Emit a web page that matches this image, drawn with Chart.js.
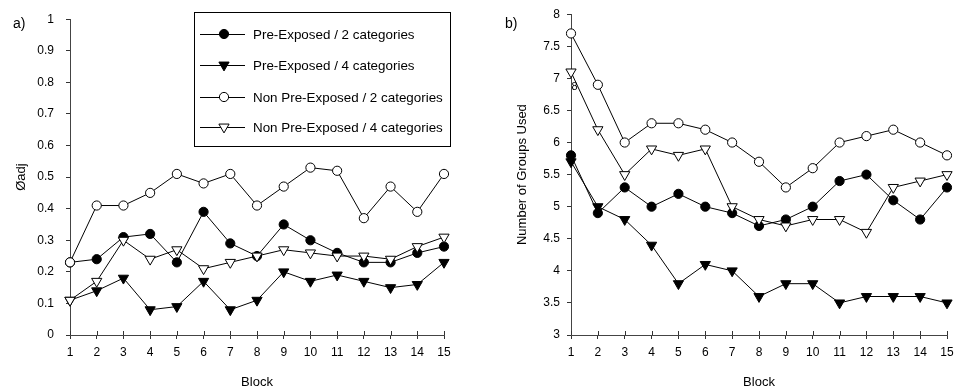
<!DOCTYPE html>
<html><head><meta charset="utf-8">
<script src="https://cdn.jsdelivr.net/npm/chart.js@4"></script>
<style>
html,body{margin:0;padding:0;background:#fff;}
#wrap{position:relative;width:962px;height:390px;overflow:hidden;}
.c{position:absolute;top:0;width:481px;height:390px;}
</style></head><body>
<div id="wrap">
<div class="c" style="left:0"><canvas id="chartA" width="481" height="390"></canvas></div>
<div class="c" style="left:481px"><canvas id="chartB" width="481" height="390"></canvas></div>
</div>
<script>
// ---- data ----
const blocks = ['1','2','3','4','5','6','7','8','9','10','11','12','13','14','15'];
const seriesNames = ['Pre-Exposed / 2 categories','Pre-Exposed / 4 categories','Non Pre-Exposed / 2 categories','Non Pre-Exposed / 4 categories'];

// panel a) phi adj
const phiPE2  = [0.23,0.24,0.31,0.32,0.23,0.39,0.29,0.25,0.35,0.30,0.26,0.23,0.23,0.26,0.28];
const phiPE4  = [0.11,0.14,0.18,0.08,0.09,0.17,0.08,0.11,0.20,0.17,0.19,0.17,0.15,0.16,0.23];
const phiNPE2 = [0.23,0.41,0.41,0.45,0.51,0.48,0.51,0.41,0.47,0.53,0.52,0.37,0.47,0.39,0.51];
const phiNPE4 = [0.11,0.17,0.30,0.24,0.27,0.21,0.23,0.25,0.27,0.26,0.25,0.25,0.24,0.28,0.31];

// panel b) number of groups used
const grpPE2  = [5.8,4.9,5.3,5.0,5.2,5.0,4.9,4.7,4.8,5.0,5.4,5.5,5.1,4.8,5.3];
const grpPE4  = [5.7,5.0,4.8,4.4,3.8,4.1,4.0,3.6,3.8,3.8,3.5,3.6,3.6,3.6,3.5];
const grpNPE2 = [7.7,6.9,6.0,6.3,6.3,6.2,6.0,5.7,5.3,5.6,6.0,6.1,6.2,6.0,5.8];
const grpNPE4 = [7.1,6.2,5.5,5.9,5.8,5.9,5.0,4.8,4.7,4.8,4.8,4.6,5.3,5.4,5.5];

const yTicksA = [0,0.1,0.2,0.3,0.4,0.5,0.6,0.7,0.8,0.9,1];
const yTicksB = [3,3.5,4,4.5,5,5.5,6,6.5,7,7.5,8];
const panelLabels = ['a)','b)'];
const yTitles = ['\u00D8adj','Number of Groups Used'];
const xTitle = 'Block';
const strayText = '8';

// ---- styles ----
const FONT = "'Liberation Sans', Arial, Helvetica, sans-serif";
const markers = [
  {pointStyle:'circle',   fill:'#000', radius:4.6, rotation:0},
  {pointStyle:'triangle', fill:'#000', radius:5.9, rotation:180},
  {pointStyle:'circle',   fill:'#fff', radius:4.6, rotation:0},
  {pointStyle:'triangle', fill:'#fff', radius:5.9, rotation:180}
];
const drawOrder = [2,3,1,0]; // lower drawn on top

function makeDatasets(arrs){
  return arrs.map((d,i)=>({
    label: seriesNames[i],
    data: d,
    borderColor:'#000',
    borderWidth:1,
    backgroundColor: markers[i].fill,
    pointBackgroundColor: markers[i].fill,
    pointBorderColor:'#000',
    pointBorderWidth:1,
    pointStyle: markers[i].pointStyle,
    pointRadius: markers[i].radius,
    pointRotation: markers[i].rotation,
    tension:0,
    fill:false,
    order: drawOrder[i]
  }));
}

const decorPlugin = {
  id:'decor',
  beforeDatasetsDraw(chart, args, opts){
    const ctx = chart.ctx, xs = chart.scales.x, area = chart.chartArea;
    ctx.save();
    ctx.strokeStyle = '#333'; ctx.lineWidth = 1;
    for (let i=0;i<xs.ticks.length;i++){
      const px = Math.round(xs.getPixelForTick(i))+0.5;
      ctx.beginPath(); ctx.moveTo(px, area.bottom); ctx.lineTo(px, area.bottom-4); ctx.stroke();
    }
    ctx.restore();
  },
  afterDraw(chart, args, opts){
    const ctx = chart.ctx;
    ctx.save();
    ctx.fillStyle = '#000';
    ctx.font = '14px ' + FONT;
    ctx.textBaseline = 'alphabetic';
    ctx.textAlign = 'left';
    ctx.fillText(opts.panel, opts.panelX, opts.panelY);
    if (opts.stray){
      ctx.font = '11px ' + FONT;
      ctx.textAlign = 'center'; ctx.textBaseline = 'middle';
      ctx.fillText(opts.stray, opts.strayX, opts.strayY);
    }
    if (opts.legend){
      const L = opts.legend;
      ctx.fillStyle = '#fff';
      ctx.fillRect(L.x, L.y, L.w, L.h);
      ctx.strokeStyle = '#000'; ctx.lineWidth = 1;
      ctx.strokeRect(L.x+0.5, L.y+0.5, L.w, L.h);
      const order = [0,1,2,3];
      order.forEach((di,k)=>{
        const ds = chart.data.datasets[di];
        const y = L.rows[k];
        ctx.strokeStyle = '#000'; ctx.lineWidth = 1;
        ctx.beginPath(); ctx.moveTo(L.lx0, y+0.5); ctx.lineTo(L.lx1, y+0.5); ctx.stroke();
        ctx.fillStyle = ds.pointBackgroundColor; ctx.strokeStyle = '#000';
        Chart.helpers.drawPoint(ctx, {pointStyle: ds.pointStyle, radius: ds.pointRadius, rotation: ds.pointRotation, borderWidth:1}, L.mx, y);
        ctx.fillStyle = '#000';
        ctx.font = '13.4px ' + FONT;
        ctx.textAlign = 'left'; ctx.textBaseline = 'middle';
        ctx.fillText(ds.label, L.tx, y+1);
      });
    }
    ctx.restore();
  }
};

function makeChart(id, arrs, yTicks, yMin, yMax, yWidth, padRight, padTop, tickPad, titlePadTop, yTitle, decorOpts){
  return new Chart(document.getElementById(id), {
    type:'line',
    data:{ labels: blocks, datasets: makeDatasets(arrs) },
    options:{
      responsive:false,
      animation:false,
      events:[],
      layout:{ padding:{ left:0, top:padTop, right:padRight, bottom:0 } },
      plugins:{ legend:{display:false}, tooltip:{enabled:false}, decor: decorOpts },
      scales:{
        x:{
          type:'category',
          offset:false,
          grid:{ display:true, drawOnChartArea:false, drawTicks:true, tickLength:4, color:'#333', offset:false },
          border:{ display:true, color:'#444', width:1 },
          ticks:{ color:'#000', font:{family:FONT, size:12}, padding:6, maxRotation:0, autoSkip:false },
          title:{ display:true, text:xTitle, color:'#000', font:{family:FONT, size:13}, padding:{top:0,bottom:0} },
          afterFit(s){ s.height = 55; }
        },
        y:{
          type:'linear',
          min:yMin, max:yMax,
          afterBuildTicks(s){ s.ticks = yTicks.map(v=>({value:v})); },
          grid:{ display:true, drawOnChartArea:false, drawTicks:true, tickLength:4, color:'#333' },
          border:{ display:true, color:'#444', width:1 },
          ticks:{ color:'#000', font:{family:FONT, size:12}, padding:tickPad, callback:(v)=>String(v) },
          title:{ display:true, text:yTitle, color:'#000', font:{family:FONT, size:13}, padding:{top:titlePadTop,bottom:0} },
          afterFit(s){ s.width = yWidth; }
        }
      }
    },
    plugins:[decorPlugin]
  });
}

makeChart('chartA', [phiPE2, phiPE4, phiNPE2, phiNPE4], yTicksA, 0, 1, 70, 37, 12, 12, 14, yTitles[0], {
  panel: panelLabels[0], panelX:13, panelY:28,
  legend:{ x:194, y:12, w:256, h:134, rows:[34,65,97,127], lx0:200, lx1:245, mx:224, tx:253 }
});
makeChart('chartB', [grpPE2, grpPE4, grpNPE2, grpNPE4], yTicksB, 3, 8, 90, 15, 11, 7, 34, yTitles[1], {
  panel: panelLabels[1], panelX:24, panelY:28,
  stray: strayText, strayX:93.5, strayY:87
});
</script>
</body></html>
